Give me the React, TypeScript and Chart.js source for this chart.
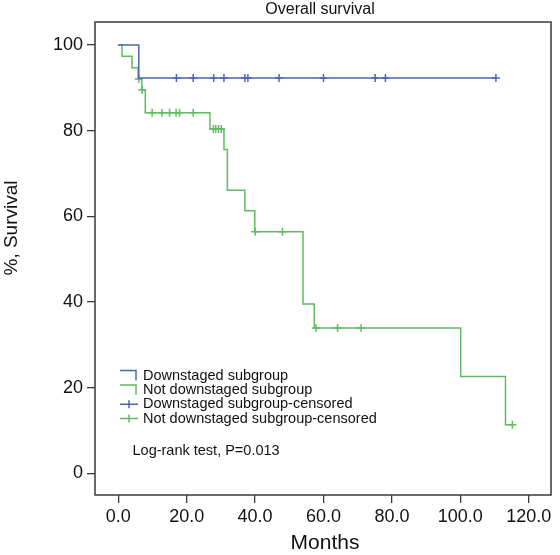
import React, { useEffect, useRef } from 'react';
import { Chart, registerables } from 'chart.js';

Chart.register(...registerables);

// ---- Data ----
const downTimes = [0, 6.0, 110.4];
const downSurvival = [100, 92.3, 92.3];
const downCensorTimes = [17.0, 21.9, 27.9, 30.9, 37.0, 37.9, 47.0, 60.0, 75.1, 78.1, 110.4];
const downCensorSurvival = [92.3, 92.3, 92.3, 92.3, 92.3, 92.3, 92.3, 92.3, 92.3, 92.3, 92.3];

const notTimes = [0, 1.1, 4.0, 5.8, 6.9, 7.9, 26.8, 30.9, 31.9, 37.0, 39.9, 54.0, 57.3, 100.1, 113.2, 115.2];
const notSurvival = [100, 97.4, 94.7, 92.1, 89.5, 84.2, 80.4, 75.6, 66.1, 61.3, 56.4, 39.5, 33.9, 22.6, 11.3, 11.3];
const notCensorTimes = [6.0, 7.0, 9.9, 12.8, 15.0, 16.9, 17.9, 21.9, 27.8, 28.5, 29.3, 30.1, 40.0, 48.0, 57.8, 64.1, 71.0, 115.2];
const notCensorSurvival = [92.1, 89.5, 84.2, 84.2, 84.2, 84.2, 84.2, 84.2, 80.4, 80.4, 80.4, 80.4, 56.4, 56.4, 33.9, 33.9, 33.9, 11.3];

const xTicks = [0, 20, 40, 60, 80, 100, 120];
const yTicks = [0, 20, 40, 60, 80, 100];

const legendLabels = [
  'Downstaged subgroup',
  'Not downstaged subgroup',
  'Downstaged subgroup-censored',
  'Not downstaged subgroup-censored',
];
const chartTitle = 'Overall survival';
const xTitle = 'Months';
const yTitle = '%, Survival';
const testNote = 'Log-rank test, P=0.013';

const BLUE = '#4d65b5';
const GREEN = '#62bb62';
const FRAME = '#3a3a3a';
const FONT = "'Liberation Sans', Arial, Helvetica, sans-serif";

const toPoints = (xs: number[], ys: number[]) => xs.map((x, i) => ({ x, y: ys[i] }));

const decorPlugin = {
  id: 'decor',
  beforeDatasetsDraw(chart: any) {
    const { ctx, chartArea } = chart;
    ctx.save();
    ctx.strokeStyle = FRAME;
    ctx.lineWidth = 1.5;
    ctx.strokeRect(chartArea.left, chartArea.top, chartArea.right - chartArea.left, chartArea.bottom - chartArea.top);
    ctx.restore();
  },
  afterDraw(chart: any) {
    const { ctx } = chart;
    ctx.save();
    ctx.fillStyle = '#111';
    ctx.textBaseline = 'middle';
    // title
    ctx.font = `16px ${FONT}`;
    ctx.textAlign = 'center';
    ctx.fillText(chartTitle, 320, 10);
    // x title
    ctx.font = `21px ${FONT}`;
    ctx.fillText(xTitle, 325, 543);
    // y title
    ctx.save();
    ctx.translate(12, 228);
    ctx.rotate(-Math.PI / 2);
    ctx.font = `19px ${FONT}`;
    ctx.fillText(yTitle, 0, 0);
    ctx.restore();

    // legend
    const rows = [375.5, 390, 404.3, 418.6];
    const colors = [BLUE, GREEN, BLUE, GREEN];
    ctx.font = `14.5px ${FONT}`;
    ctx.textAlign = 'left';
    rows.forEach((y, i) => {
      ctx.strokeStyle = colors[i];
      ctx.lineWidth = 1.5;
      ctx.beginPath();
      if (i < 2) {
        ctx.moveTo(120, y - 5);
        ctx.lineTo(136, y - 5);
        ctx.lineTo(136, y + 5);
      } else {
        ctx.moveTo(120, y);
        ctx.lineTo(138, y);
        ctx.moveTo(129, y - 4);
        ctx.lineTo(129, y + 4);
      }
      ctx.stroke();
      ctx.fillStyle = '#111';
      ctx.fillText(legendLabels[i], 143, y);
    });
    ctx.fillText(testNote, 132.5, 451);
    ctx.restore();
  },
};

export default function App() {
  const ref = useRef<HTMLCanvasElement>(null);
  useEffect(() => {
    if (!ref.current) return;
    const chart = new Chart(ref.current, {
      type: 'line',
      data: {
        datasets: [
          {
            label: legendLabels[0],
            data: toPoints(downTimes, downSurvival),
            borderColor: BLUE,
            borderWidth: 1.5,
            stepped: 'before',
            pointRadius: 0,
            fill: false,
          },
          {
            label: legendLabels[1],
            data: toPoints(notTimes, notSurvival),
            borderColor: GREEN,
            borderWidth: 1.5,
            stepped: 'before',
            pointRadius: 0,
            fill: false,
          },
          {
            label: legendLabels[2],
            data: toPoints(downCensorTimes, downCensorSurvival),
            borderColor: BLUE,
            showLine: false,
            pointStyle: 'cross',
            pointRadius: 4,
            pointBorderWidth: 1.5,
          },
          {
            label: legendLabels[3],
            data: toPoints(notCensorTimes, notCensorSurvival),
            borderColor: GREEN,
            showLine: false,
            pointStyle: 'cross',
            pointRadius: 4,
            pointBorderWidth: 1.5,
          },
        ],
      },
      options: {
        animation: false,
        responsive: false,
        maintainAspectRatio: false,
        layout: { padding: { top: 22, right: 9, left: 0, bottom: 0 } },
        plugins: { legend: { display: false }, title: { display: false }, tooltip: { enabled: false } },
        scales: {
          x: {
            type: 'linear',
            min: -6.8,
            max: 126.5,
            afterBuildTicks: (s: any) => {
              s.ticks = xTicks.map((v) => ({ value: v }));
            },
            afterFit: (s: any) => {
              s.height = 60;
            },
            grid: { drawOnChartArea: false, drawTicks: true, tickLength: 8, color: FRAME, lineWidth: 1.3 },
            border: { display: false },
            ticks: {
              autoSkip: false,
              maxRotation: 0,
              padding: 3,
              color: '#111',
              font: { family: FONT, size: 18 },
              callback: (v: any) => Number(v).toFixed(1),
            },
          },
          y: {
            type: 'linear',
            min: -5.1,
            max: 105.4,
            afterBuildTicks: (s: any) => {
              s.ticks = yTicks.map((v) => ({ value: v }));
            },
            afterFit: (s: any) => {
              s.width = 95;
            },
            grid: { drawOnChartArea: false, drawTicks: true, tickLength: 8, color: FRAME, lineWidth: 1.3 },
            border: { display: false },
            ticks: {
              autoSkip: false,
              padding: 4,
              color: '#111',
              font: { family: FONT, size: 18 },
              callback: (v: any) => String(v),
            },
          },
        },
      },
      plugins: [decorPlugin],
    } as any);
    return () => chart.destroy();
  }, []);
  return (
    <div style={{ position: 'absolute', left: 0, top: 0, width: 560, height: 555, background: '#fff' }}>
      <canvas ref={ref} width={560} height={555} style={{ width: 560, height: 555 }} />
    </div>
  );
}
